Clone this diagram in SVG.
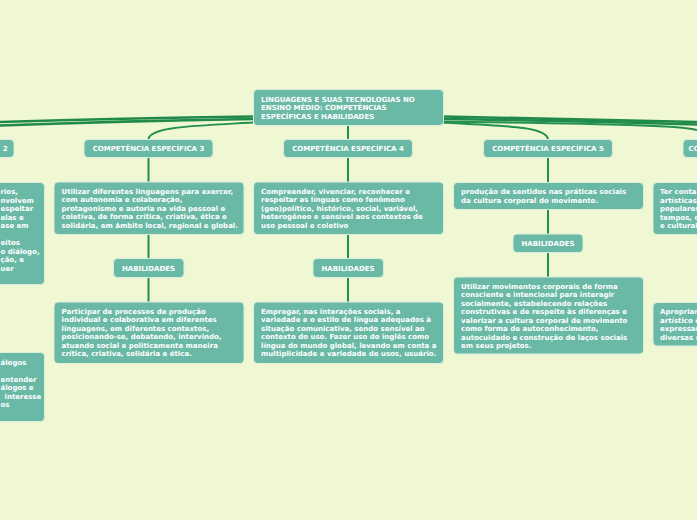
<svg xmlns="http://www.w3.org/2000/svg" width="697" height="520" viewBox="0 0 697 520">
<style>
.n{fill:#6ab9a6;stroke:#d9efdc;stroke-width:1}
.t{font-family:"DejaVu Sans",Verdana,sans-serif;font-weight:bold;font-size:7px;fill:#ffffff}
.m{text-anchor:middle}
.c{fill:none;stroke:#22904e;stroke-width:2}
.cb{fill:none;stroke:#1f8a4a;stroke-width:2.6}
</style>
<rect width="697" height="520" fill="#eff7d3"/>
<g id="connectors">
<path class="cb" d="M253,116.5 Q120,118 0,122"/>
<path class="cb" d="M253,119 Q120,121 0,125.5"/>
<path class="c" d="M253,122.5 C190,126 150,127 148.5,139"/>
<path class="cb" d="M443,116.5 Q580,119 697,122"/>
<path class="cb" d="M443,119 Q580,121 697,124.5"/>
<path class="c" d="M443,121.5 C600,124 680,125 697,130"/>
<path class="c" d="M443,122.5 C510,126 546,127 548,139"/>
<path class="c" d="M348,125 V139"/>
<path class="c" d="M148.5,157 V182 M148.5,234 V258 M148.5,278 V302"/>
<path class="c" d="M348,157 V182 M348,234 V258 M348,278 V302"/>
<path class="c" d="M548,157 V182 M548,209 V234 M548,252 V277"/>
</g>
<g id="central">
<rect class="n" x="253.5" y="89.5" width="190" height="36" rx="4"/>
<text class="t" x="261" y="101.5">LINGUAGENS E SUAS TECNOLOGIAS NO</text>
<text class="t" x="261" y="110">ENSINO MÉDIO: COMPETÊNCIAS</text>
<text class="t" x="261" y="118.5">ESPECÍFICAS E HABILIDADES</text>
</g>
<g id="comp2">
<rect class="n" x="-60" y="139.5" width="74" height="18" rx="4"/>
<text class="t" x="2.7" y="151.3">2</text>
</g>
<g id="comp2-desc">
<rect class="n" x="-150" y="182.5" width="194.5" height="102" rx="4"/>
<text class="t" x="0.5" y="194">rios,</text>
<text class="t" x="0.5" y="202.5">nvolvem</text>
<text class="t" x="0.5" y="211">espeitar</text>
<text class="t" x="0.5" y="219.5">elas e</text>
<text class="t" x="0.5" y="228">ase em</text>
<text class="t" x="0.5" y="245">eitos</text>
<text class="t" x="0.5" y="253.5">o diálogo,</text>
<text class="t" x="0.5" y="262">ção, e</text>
<text class="t" x="0.5" y="270.5">uer</text>
</g>
<g id="comp2-habil">
<rect class="n" x="-150" y="352.5" width="194.5" height="69" rx="4"/>
<text class="t" x="0.5" y="364.5">álogos</text>
<text class="t" x="0.5" y="381.5">entender</text>
<text class="t" x="0.5" y="390">álogos e</text>
<text class="t" x="4.5" y="398.5">interesse</text>
<text class="t" x="0.5" y="407">os</text>
</g>
<g id="comp3">
<rect class="n" x="84" y="139.5" width="129" height="18" rx="4"/>
<text class="t m" x="148.5" y="151.3">COMPETÊNCIA ESPECÍFICA 3</text>
</g>
<g id="comp3-desc">
<rect class="n" x="54" y="182" width="190" height="52.5" rx="4"/>
<text class="t" x="61.5" y="193.8">Utilizar diferentes linguagens para exercer,</text>
<text class="t" x="61.5" y="202.3">com autonomia e colaboração,</text>
<text class="t" x="61.5" y="210.8">protagonismo e autoria na vida pessoal e</text>
<text class="t" x="61.5" y="219.3">coletiva, de forma crítica, criativa, ética e</text>
<text class="t" x="61.5" y="227.8">solidária, em âmbito local, regional e global.</text>
</g>
<g id="comp3-hab">
<rect class="n" x="113.5" y="258.5" width="70.5" height="19" rx="4"/>
<text class="t m" x="148.5" y="270.7">HABILIDADES</text>
</g>
<g id="comp3-habil">
<rect class="n" x="54" y="302" width="190" height="61.5" rx="4"/>
<text class="t" x="61.5" y="313.5">Participar de processos de produção</text>
<text class="t" x="61.5" y="322">individual e colaborativa em diferentes</text>
<text class="t" x="61.5" y="330.5">linguagens, em diferentes contextos,</text>
<text class="t" x="61.5" y="339">posicionando-se, debatendo, intervindo,</text>
<text class="t" x="61.5" y="347.5">atuando social e politicamente maneira</text>
<text class="t" x="61.5" y="356">crítica, criativa, solidária e ética.</text>
</g>
<g id="comp4">
<rect class="n" x="283.5" y="139.5" width="129" height="18" rx="4"/>
<text class="t m" x="348" y="151.3">COMPETÊNCIA ESPECÍFICA 4</text>
</g>
<g id="comp4-desc">
<rect class="n" x="253.5" y="182" width="190" height="52.5" rx="4"/>
<text class="t" x="261" y="193.8">Compreender, vivenciar, reconhecer e</text>
<text class="t" x="261" y="202.3">respeitar as línguas como fenômeno</text>
<text class="t" x="261" y="210.8">(geo)político, histórico, social, variável,</text>
<text class="t" x="261" y="219.3">heterogêneo e sensível aos contextos de</text>
<text class="t" x="261" y="227.8">uso pessoal e coletivo</text>
</g>
<g id="comp4-hab">
<rect class="n" x="313" y="258.5" width="70.5" height="19" rx="4"/>
<text class="t m" x="348" y="270.7">HABILIDADES</text>
</g>
<g id="comp4-habil">
<rect class="n" x="253.5" y="302" width="190" height="61.5" rx="4"/>
<text class="t" x="261" y="313.5">Empregar, nas interações sociais, a</text>
<text class="t" x="261" y="322">variedade e o estilo de língua adequados à</text>
<text class="t" x="261" y="330.5">situação comunicativa, sendo sensível ao</text>
<text class="t" x="261" y="339">contexto do uso. Fazer uso do inglês como</text>
<text class="t" x="261" y="347.5">língua do mundo global, levando em conta a</text>
<text class="t" x="261" y="356">multiplicidade e variedade de usos, usuário.</text>
</g>
<g id="comp5">
<rect class="n" x="483.5" y="139.5" width="129" height="18" rx="4"/>
<text class="t m" x="548" y="151.3">COMPETÊNCIA ESPECÍFICA 5</text>
</g>
<g id="comp5-desc">
<rect class="n" x="453.5" y="182.5" width="190" height="27" rx="4"/>
<text class="t" x="461" y="194">produção de sentidos nas práticas sociais</text>
<text class="t" x="461" y="202.5">da cultura corporal do movimento.</text>
</g>
<g id="comp5-hab">
<rect class="n" x="513" y="234" width="70" height="18.5" rx="4"/>
<text class="t m" x="548" y="245.9">HABILIDADES</text>
</g>
<g id="comp5-habil">
<rect class="n" x="453.5" y="277" width="190" height="77" rx="4"/>
<text class="t" x="461" y="288.5">Utilizar movimentos corporais de forma</text>
<text class="t" x="461" y="297">consciente e intencional para interagir</text>
<text class="t" x="461" y="305.5">socialmente, estabelecendo relações</text>
<text class="t" x="461" y="314">construtivas e de respeito às diferenças e</text>
<text class="t" x="461" y="322.5">valorizar a cultura corporal de movimento</text>
<text class="t" x="461" y="331">como forma de autoconhecimento,</text>
<text class="t" x="461" y="339.5">autocuidado e construção de laços sociais</text>
<text class="t" x="461" y="348">em seus projetos.</text>
</g>
<g id="comp6">
<rect class="n" x="683" y="139.5" width="129" height="18" rx="4"/>
<text class="t" x="688.5" y="151.3">CO</text>
</g>
<g id="comp6-desc">
<rect class="n" x="653" y="182.5" width="190" height="52" rx="4"/>
<text class="t" x="660" y="194">Ter conta</text>
<text class="t" x="660" y="202.5">artísticas</text>
<text class="t" x="660" y="211">populares</text>
<text class="t" x="660" y="219.5">tempos, c</text>
<text class="t" x="660" y="228">e cultural</text>
</g>
<g id="comp6-habil">
<rect class="n" x="653" y="302.5" width="190" height="43.5" rx="4"/>
<text class="t" x="660" y="314">Apropriar</text>
<text class="t" x="660" y="322.5">artístico e</text>
<text class="t" x="660" y="331">expressar</text>
<text class="t" x="660" y="339.5">diversas r</text>
</g>
</svg>
